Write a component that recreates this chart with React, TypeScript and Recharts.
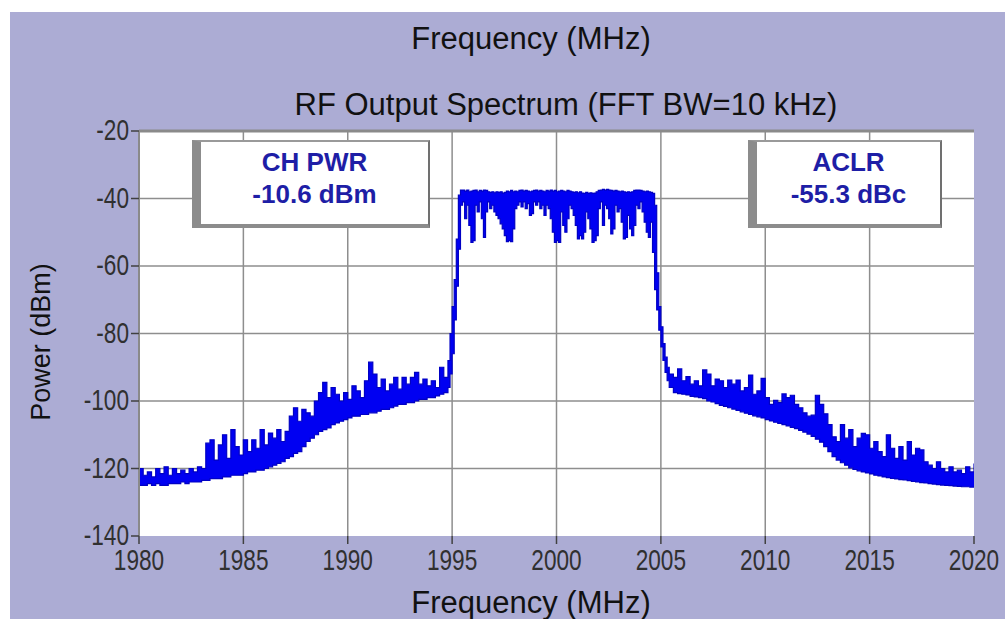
import React from "react";
import {
  ComposedChart,
  Area,
  XAxis,
  YAxis,
  CartesianGrid,
  ReferenceLine,
} from "recharts";

// frequency points (MHz)
const freqMHz = [
  1980, 1980.2, 1980.4, 1980.6, 1980.8, 1981, 1981.2, 1981.4, 1981.6, 1981.8,
  1982, 1982.2, 1982.4, 1982.6, 1982.8, 1983, 1983.2, 1983.4, 1983.6, 1983.8,
  1984, 1984.2, 1984.4, 1984.6, 1984.8, 1985, 1985.2, 1985.4, 1985.6, 1985.8,
  1986, 1986.2, 1986.4, 1986.6, 1986.8, 1987, 1987.2, 1987.4, 1987.6, 1987.8,
  1988, 1988.2, 1988.4, 1988.6, 1988.8, 1989, 1989.2, 1989.4, 1989.6, 1989.8,
  1990, 1990.2, 1990.4, 1990.6, 1990.8, 1991, 1991.2, 1991.4, 1991.6, 1991.8,
  1992, 1992.2, 1992.4, 1992.6, 1992.8, 1993, 1993.2, 1993.4, 1993.6, 1993.8,
  1994, 1994.2, 1994.4, 1994.6, 1994.8,
  1994.9, 1995, 1995.1, 1995.2, 1995.3, 1995.4,
  1995.5, 1995.6, 1995.7, 1995.8, 1995.9, 1996, 1996.1, 1996.2, 1996.3, 1996.4,
  1996.5, 1996.6, 1996.7, 1996.8, 1996.9, 1997, 1997.1, 1997.2, 1997.3, 1997.4,
  1997.5, 1997.6, 1997.7, 1997.8, 1997.9, 1998, 1998.1, 1998.2, 1998.3, 1998.4,
  1998.5, 1998.6, 1998.7, 1998.8, 1998.9, 1999, 1999.1, 1999.2, 1999.3, 1999.4,
  1999.5, 1999.6, 1999.7, 1999.8, 1999.9, 2000, 2000.1, 2000.2, 2000.3, 2000.4,
  2000.5, 2000.6, 2000.7, 2000.8, 2000.9, 2001, 2001.1, 2001.2, 2001.3, 2001.4,
  2001.5, 2001.6, 2001.7, 2001.8, 2001.9, 2002, 2002.1, 2002.2, 2002.3, 2002.4,
  2002.5, 2002.6, 2002.7, 2002.8, 2002.9, 2003, 2003.1, 2003.2, 2003.3, 2003.4,
  2003.5, 2003.6, 2003.7, 2003.8, 2003.9, 2004, 2004.1, 2004.2, 2004.3, 2004.4,
  2004.5,
  2004.6, 2004.7, 2004.8, 2004.9, 2005, 2005.1, 2005.2, 2005.3, 2005.4,
  2005.6, 2005.8, 2006, 2006.2, 2006.4, 2006.6, 2006.8, 2007, 2007.2, 2007.4,
  2007.6, 2007.8, 2008, 2008.2, 2008.4, 2008.6, 2008.8, 2009, 2009.2, 2009.4,
  2009.6, 2009.8, 2010, 2010.2, 2010.4, 2010.6, 2010.8, 2011, 2011.2, 2011.4,
  2011.6, 2011.8, 2012, 2012.2, 2012.4, 2012.6, 2012.8, 2013, 2013.2, 2013.4,
  2013.6, 2013.8, 2014, 2014.2, 2014.4, 2014.6, 2014.8, 2015, 2015.2, 2015.4,
  2015.6, 2015.8, 2016, 2016.2, 2016.4, 2016.6, 2016.8, 2017, 2017.2, 2017.4,
  2017.6, 2017.8, 2018, 2018.2, 2018.4, 2018.6, 2018.8, 2019, 2019.2, 2019.4,
  2019.6, 2019.8, 2020,
];

// lower edge of the trace (dBm)
const powerLow = [
  -125, -125, -124.5, -125, -124.5, -125, -125, -124.5, -124.5, -124.5,
  -124, -124.5, -124, -124, -124, -123.5, -123.5, -123, -123, -123,
  -122.5, -122.5, -122, -122, -122, -121.5, -121, -121, -120.5, -120.5,
  -120, -119.5, -119, -118.5, -118, -117, -116.5, -115.5, -115, -113.5,
  -112, -111, -110, -109, -108.5, -108, -107, -106.5, -106, -105.5,
  -105, -104.5, -104.5, -104, -104, -103.5, -103.5, -103, -102.5, -102.5,
  -102, -101.5, -101, -101, -100.5, -100.5, -100, -99.5, -99.5, -99,
  -99, -98.5, -98, -97.5, -96,
  -92, -86, -76, -66, -55, -42,
  -41, -46, -42, -48, -53, -52.5, -42, -44, -41, -46,
  -51.5, -44, -41, -43, -42, -44, -45, -46, -47.5, -49,
  -51, -52.8, -52.5, -52.8, -49, -43, -42, -41, -42.5, -41,
  -43, -41.5, -45, -44.5, -41, -42, -41, -43, -42, -45,
  -42, -43, -46, -50, -53, -52.5, -53, -44, -48, -50,
  -46, -42, -43, -45, -48, -52, -51, -52, -50, -44,
  -46, -49, -53, -52.5, -51, -43, -41, -48, -42, -43,
  -46, -50.5, -49, -42, -44, -43, -47, -52, -51.5, -45,
  -49, -51, -48, -42, -43, -41, -44, -47, -50, -51.5,
  -47,
  -56, -67, -73, -79, -84, -88, -91.5, -94, -96,
  -97.5, -97.8, -98, -98.2, -98.6, -98.8, -99, -99.3, -100, -100.3,
  -100.8, -101.3, -101.6, -102, -102.4, -102.8, -103.2, -103.6, -104, -104.4,
  -104.7, -105, -105.5, -105.9, -106.3, -106.6, -107, -107.4, -107.8, -108.2,
  -108.7, -109.2, -109.8, -110.5, -111.3, -112.2, -113.5, -115, -116.5, -117.5,
  -118.3, -119, -119.8, -120.3, -120.7, -121, -121.3, -121.6, -122, -122.2,
  -122.5, -122.7, -122.9, -123.1, -123.3, -123.4, -123.6, -123.8, -124, -124.2,
  -124.3, -124.5, -124.6, -124.8, -124.9, -125, -125.1, -125.2, -125.3, -125.4,
  -125.4, -125.5, -125.5,
];

// upper edge of the trace, spikes included (dBm)
const powerHigh = [
  -120, -122, -121, -122.5, -120, -121.5, -119.5, -122, -120, -121.5,
  -120.5, -121.5, -120, -121, -119.5, -120, -112.5, -111.5, -117.5, -113,
  -110, -117, -108.5, -113.5, -116, -111.5, -115, -111.5, -114, -108.5,
  -113, -109.5, -111, -108.5, -112, -109, -104.5, -102, -106, -102.5,
  -103.5, -104.5, -100, -97.5, -94.5, -99, -96, -98, -100, -97.5,
  -99.5, -95.5, -97, -99, -94, -88.5, -92, -96, -93.5, -97,
  -95, -93, -96.5, -93, -95, -93, -91.5, -95, -93.5, -95.5,
  -94, -96, -90, -93, -88,
  -80, -72, -64, -52, -39, -37.5,
  -37.5, -37.8, -37.5, -38, -37.8, -37.6, -37.5, -38, -37.6, -37.8,
  -37.5, -37.6, -38, -38.2, -38, -38.3, -38, -38.2, -38, -38.4,
  -38.2, -37.8, -38, -37.6, -38, -37.8, -38, -37.6, -37.5, -37.8,
  -37.6, -37.8, -38, -37.8, -37.6, -37.5, -37.8, -37.6, -37.8, -38,
  -37.6, -37.8, -37.5, -37.8, -37.6, -38, -37.8, -37.6, -37.8, -38,
  -37.6, -37.8, -38, -38.2, -38, -38.3, -38, -38.4, -38.5, -38.2,
  -38.5, -38.3, -38.5, -38.4, -38, -37.6, -37.5, -37.3, -37.5, -37.3,
  -37.5, -37.6, -37.8, -37.6, -37.8, -38, -37.8, -38, -38.2, -38,
  -38.2, -38, -37.6, -37.5, -37.5, -37.6, -37.8, -38, -37.8, -38,
  -38.2,
  -38.5, -42, -62, -72, -78, -83, -87, -90, -92,
  -93, -90.5, -94, -92.8, -95, -94, -95.5, -90.8, -92, -95.5,
  -93.5, -94, -96, -93.8, -95, -93.8, -97, -96, -92.3, -98,
  -97, -93.3, -99, -101, -99.8, -100.5, -97.9, -99, -98.3, -101,
  -102, -103.5, -104.5, -104.2, -98.3, -101, -103.8, -107, -110.6, -112,
  -107, -111, -108.5, -113.5, -111, -109.6, -110, -114, -112, -115,
  -116.5, -110, -114, -117, -113.5, -117.5, -112, -116, -114, -114.5,
  -118, -119, -120, -118, -120, -121, -119.5, -121, -120.5, -121.5,
  -119.5, -121, -118.5,
];

const xTicks = [1980, 1985, 1990, 1995, 2000, 2005, 2010, 2015, 2020];
const yTicks = [-140, -120, -100, -80, -60, -40, -20];
const gridX = [1985, 1990, 1995, 2000, 2005, 2010, 2015];
const gridY = [-120, -100, -80, -60, -40];

const spectrum = freqMHz.map((f, i) => ({
  f,
  band: [powerLow[i], powerHigh[i]],
}));

const LAVENDER = "#acacd4";
const LABEL_FONT = '"Liberation Sans", Arial, sans-serif';

function XTick(props: any) {
  const { x, y, payload } = props;
  return (
    <text
      transform={`translate(${x},${y}) scale(0.78,1)`}
      x={0}
      y={0}
      dy={23.5}
      textAnchor="middle"
      fontSize={29}
      fontFamily={LABEL_FONT}
      fill="#303030"
    >
      {payload.value}
    </text>
  );
}

function YTick(props: any) {
  const { x, y, payload } = props;
  return (
    <text
      transform={`translate(${x},${y}) scale(0.78,1)`}
      x={0}
      y={0}
      dy={9}
      textAnchor="end"
      fontSize={29}
      fontFamily={LABEL_FONT}
      fill="#303030"
    >
      {payload.value}
    </text>
  );
}

function Readout({
  left,
  width,
  label,
  value,
}: {
  left: number;
  width: number;
  label: string;
  value: string;
}) {
  return (
    <div
      style={{
        position: "absolute",
        left,
        top: 128,
        width,
        height: 88,
        boxSizing: "border-box",
        background: "#ffffff",
        borderLeft: "9px solid #8c8c8c",
        borderTop: "2px solid #9a9a9a",
        borderRight: "2px solid #707070",
        borderBottom: "4px solid #8c8c8c",
        paddingTop: 4,
        textAlign: "center",
        fontFamily: LABEL_FONT,
        fontWeight: "bold",
        fontSize: 26,
        lineHeight: "32px",
        color: "#1e1ea6",
      }}
    >
      <div>{label}</div>
      <div>{value}</div>
    </div>
  );
}

const titleStyle: React.CSSProperties = {
  position: "absolute",
  transform: "translateX(-50%)",
  whiteSpace: "nowrap",
  fontFamily: LABEL_FONT,
  fontSize: 31,
  lineHeight: "31px",
  color: "#111",
};

export default function App() {
  return (
    <div
      style={{
        position: "absolute",
        left: 10,
        top: 12,
        width: 995,
        height: 607,
        background: LAVENDER,
        overflow: "hidden",
      }}
    >
      <ComposedChart
        width={995}
        height={607}
        data={spectrum}
        margin={{ top: 119, right: 31, bottom: 0, left: 0 }}
      >
        <CartesianGrid
          fill="#ffffff"
          stroke="#8e8e8e"
          strokeWidth={1.5}
          horizontalValues={gridY}
          verticalValues={gridX}
        />
        <XAxis
          type="number"
          dataKey="f"
          domain={[1980, 2020]}
          ticks={xTicks}
          interval={0}
          height={83}
          axisLine={false}
          tickLine={{ stroke: "#404040", strokeWidth: 1.5 }}
          tickSize={8}
          tick={<XTick />}
          allowDataOverflow
        />
        <YAxis
          type="number"
          domain={[-140, -20]}
          ticks={yTicks}
          interval={0}
          width={129}
          axisLine={{ stroke: "#8a8a8a", strokeWidth: 2 }}
          tickLine={{ stroke: "#404040", strokeWidth: 1.5 }}
          tickSize={8}
          tick={<YTick />}
          allowDataOverflow
        />
        <ReferenceLine y={-20} stroke="#8a8a8a" strokeWidth={3} />
        <Area
          type="stepAfter"
          dataKey="band"
          fill="#0000f2"
          fillOpacity={1}
          stroke="#0000c4"
          strokeWidth={1.2}
          dot={false}
          activeDot={false}
          isAnimationActive={false}
        />
      </ComposedChart>

      <div style={{ ...titleStyle, left: 521, top: 11 }}>Frequency (MHz)</div>
      <div style={{ ...titleStyle, left: 556, top: 77 }}>
        RF Output Spectrum (FFT BW=10 kHz)
      </div>
      <div style={{ ...titleStyle, left: 521, top: 575 }}>Frequency (MHz)</div>
      <div
        style={{
          position: "absolute",
          left: 31,
          top: 330,
          transform: "translate(-50%, -50%) rotate(-90deg)",
          whiteSpace: "nowrap",
          fontFamily: LABEL_FONT,
          fontSize: 27,
          lineHeight: "27px",
          color: "#111",
        }}
      >
        Power (dBm)
      </div>

      <Readout left={182} width={238} label="CH PWR" value="-10.6 dBm" />
      <Readout left={738} width={194} label="ACLR" value="-55.3 dBc" />
    </div>
  );
}
